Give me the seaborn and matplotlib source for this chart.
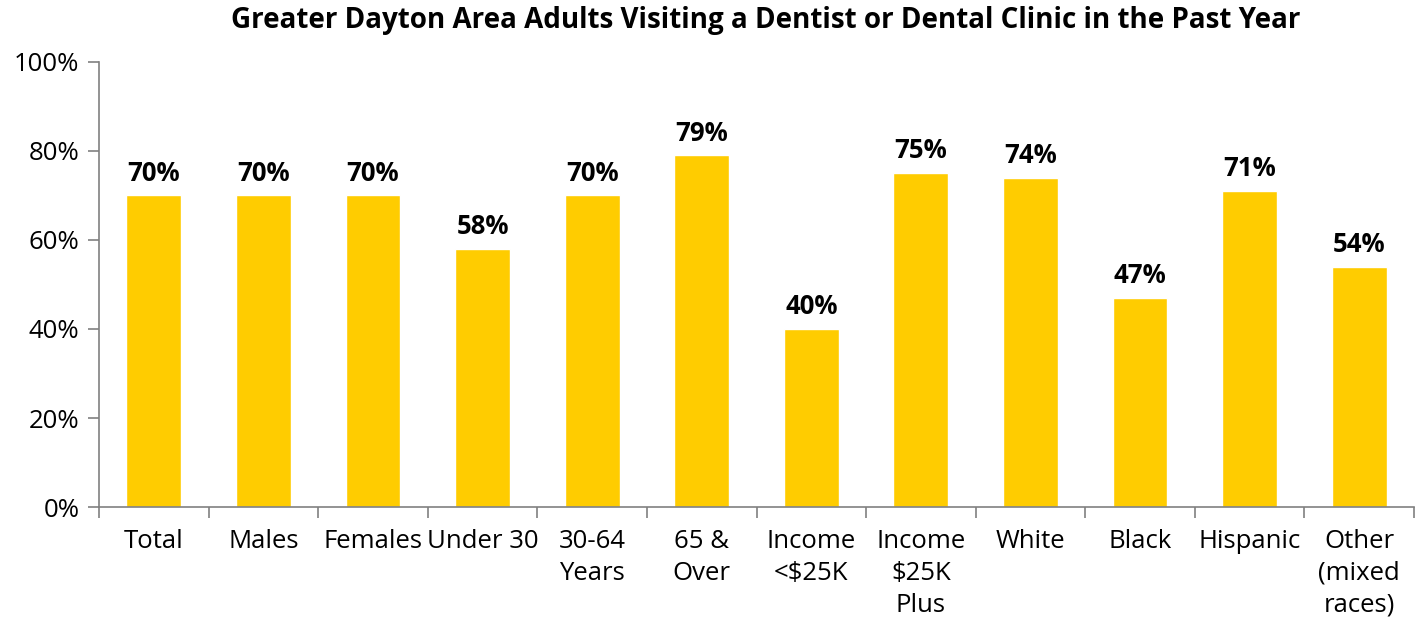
import numpy as np
import pandas as pd
import seaborn as sns
import matplotlib.pyplot as plt
from matplotlib.ticker import FixedLocator, MultipleLocator, PercentFormatter

categories = ['Total', 'Males', 'Females', 'Under 30', '30-64\nYears', '65 &\nOver',
              'Income\n<$25K', 'Income\n$25K\nPlus', 'White', 'Black', 'Hispanic',
              'Other\n(mixed\nraces)']
values = [70, 70, 70, 58, 70, 79, 40, 75, 74, 47, 71, 54]

df = pd.DataFrame({'group': categories, 'pct': values})

sns.set_style('white')
plt.rcParams['font.family'] = ['Open Sans', 'DejaVu Sans']
plt.rcParams['text.color'] = 'black'
plt.rcParams['xtick.labelcolor'] = 'black'
plt.rcParams['ytick.labelcolor'] = 'black'

fig = plt.figure(figsize=(14.24, 6.18), dpi=100)
ax = fig.add_axes([0.0695, 0.1796, 0.9235, 0.7201])

sns.barplot(data=df, x='group', y='pct', color='#FFCC00', saturation=1,
            width=0.5, ax=ax)

for i, v in enumerate(values):
    ax.text(i, v + 2, '%d%%' % v, ha='center', va='bottom',
            fontsize=18.5, fontweight='bold', color='black')

ax.set_xlim(-0.5, len(categories) - 0.5)
ax.set_ylim(0, 100)
ax.yaxis.set_major_locator(MultipleLocator(20))
ax.yaxis.set_major_formatter(PercentFormatter(decimals=0))
ax.xaxis.set_minor_locator(FixedLocator(np.arange(-0.5, len(categories), 1)))
ax.tick_params(axis='x', which='major', length=0, pad=16, labelsize=18.5)
ax.tick_params(axis='x', which='minor', length=8, width=1.2, color='#808080', direction='out', bottom=True)
ax.tick_params(axis='y', length=8, width=1.2, color='#808080', direction='out', left=True, labelsize=18.5, pad=6)
for lbl in ax.get_xticklabels():
    lbl.set_linespacing(1.35)
ax.set_xlabel('')
ax.set_ylabel('')
for s in ['top', 'right']:
    ax.spines[s].set_visible(False)
for s in ['left', 'bottom']:
    ax.spines[s].set_color('#808080')
    ax.spines[s].set_linewidth(1.2)

fig.suptitle('Greater Dayton Area Adults Visiting a Dentist or Dental Clinic in the Past Year',
             x=0.538, y=0.99, fontsize=20, fontweight='bold')

fig.savefig('out.png', dpi=100)
